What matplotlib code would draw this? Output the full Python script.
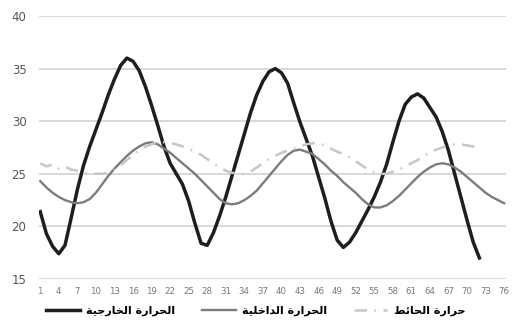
import matplotlib
matplotlib.use('Agg')
import matplotlib.pyplot as plt
import numpy as np

# hours 1..76
hours = np.arange(1, 77)
tick_hours = list(range(1, 77, 3))

outside = [21.4, 19.3, 18.1, 17.4, 18.2, 20.8, 23.5, 25.8, 27.6, 29.2,
           30.8, 32.5, 34.0, 35.3, 36.0, 35.7, 34.8, 33.3, 31.5, 29.6,
           27.6, 26.0, 25.0, 24.0, 22.4, 20.3, 18.4, 18.2, 19.4, 21.0,
           22.8, 24.8, 26.8, 28.8, 30.8, 32.5, 33.8, 34.7, 35.0, 34.6,
           33.6, 31.7, 29.9, 28.3, 26.7, 24.7, 22.7, 20.5, 18.7, 18.0,
           18.5, 19.4, 20.5, 21.6, 22.8, 24.2, 25.9, 28.0, 30.0, 31.6,
           32.3, 32.6, 32.2, 31.3, 30.4, 29.0, 27.2, 25.0, 22.8, 20.6,
           18.5, 17.0]

inside = [24.3, 23.7, 23.2, 22.8, 22.5, 22.3, 22.2, 22.3, 22.6, 23.2,
          24.0, 24.8, 25.5, 26.1, 26.7, 27.2, 27.6, 27.9, 28.0, 27.8,
          27.4, 27.0, 26.5, 26.0, 25.5, 25.0, 24.4, 23.8, 23.2, 22.6,
          22.2, 22.1, 22.2, 22.5, 22.9, 23.4, 24.1, 24.8, 25.5, 26.2,
          26.8, 27.2, 27.3, 27.1, 26.9, 26.4, 25.9, 25.3, 24.8, 24.2,
          23.7, 23.2, 22.6, 22.1, 21.8, 21.8, 22.0, 22.4, 22.9, 23.5,
          24.1, 24.7, 25.2, 25.6, 25.9, 26.0, 25.9, 25.6, 25.2, 24.7,
          24.2, 23.7, 23.2, 22.8, 22.5, 22.2]

wall = [26.0, 25.7, 25.9, 25.5, 25.7, 25.4, 25.3, 25.1, 25.0, 25.0,
        25.0, 25.1, 25.4, 25.8, 26.3, 26.8, 27.2, 27.6, 27.8, 28.0,
        28.0, 27.9, 27.8, 27.6, 27.4, 27.1, 26.8, 26.4, 26.0, 25.6,
        25.3, 25.1, 25.0, 25.0, 25.2, 25.6, 26.0, 26.4, 26.7, 27.0,
        27.2, 27.4, 27.6, 27.8, 27.9, 27.9, 27.7, 27.4, 27.1, 26.9,
        26.6, 26.2, 25.8, 25.4, 25.1, 25.0, 25.0, 25.2, 25.4, 25.7,
        26.0, 26.3, 26.7, 27.0, 27.3, 27.5, 27.7, 27.8, 27.8, 27.7,
        27.6, 27.5]

# Arabic labels, pre-shaped (presentation forms) in visual order
lbl_outside = '\uFE8D\uFEDF\uFEA4\uFEAE\uFE8D\uFEAD\uFE93 \uFE8D\uFEDF\uFEA8\uFE8E\uFEAD\uFE9F\uFEF4\uFE94'[::-1]
lbl_inside = '\uFE8D\uFEDF\uFEA4\uFEAE\uFE8D\uFEAD\uFE93 \uFE8D\uFEDF\uFEAA\uFE8D\uFEA7\uFEE0\uFEF4\uFE94'[::-1]
lbl_wall = '\uFEA3\uFEAE\uFE8D\uFEAD\uFE93 \uFE8D\uFEDF\uFEA4\uFE8E\uFE8B\uFEC2'[::-1]

fig = plt.figure(figsize=(5.12, 3.27), dpi=100)
ax = fig.add_axes([39/512, 1-279/327, (506-39)/512, (279-16)/327])

ax.plot(hours[:len(outside)], outside, color='#1e1e1e', lw=2.5, label=lbl_outside,
        solid_joinstyle='round')
ax.plot(hours[:len(inside)], inside, color='#7c7c7c', lw=1.7, label=lbl_inside,
        solid_joinstyle='round')
ax.plot(hours[:len(wall)], wall, color='#c6c6c6', lw=1.8, dashes=(5, 3, 0.6, 3), label=lbl_wall)

ax.set_ylim(15, 40)
ax.set_xlim(0.8, 76.3)
ax.set_yticks([15, 20, 25, 30, 35, 40])
ax.set_xticks(tick_hours)
ax.grid(axis='y', color='#d6d6d6', lw=1.3)
ax.set_axisbelow(True)
for s in ax.spines.values():
    s.set_visible(False)
ax.tick_params(axis='both', length=0)
ax.tick_params(axis='y', labelsize=8.5, labelcolor='#555555', pad=9)
ax.tick_params(axis='x', labelsize=6.2, labelcolor='#777777', pad=6)

fig.legend(loc='center', bbox_to_anchor=(0.5, 0.05), ncol=3, frameon=False,
           prop={'family': 'DejaVu Sans', 'weight': 'bold', 'size': 8},
           handlelength=3.0, columnspacing=2.4, handletextpad=0.6)

fig.savefig('out.png', dpi=100)
